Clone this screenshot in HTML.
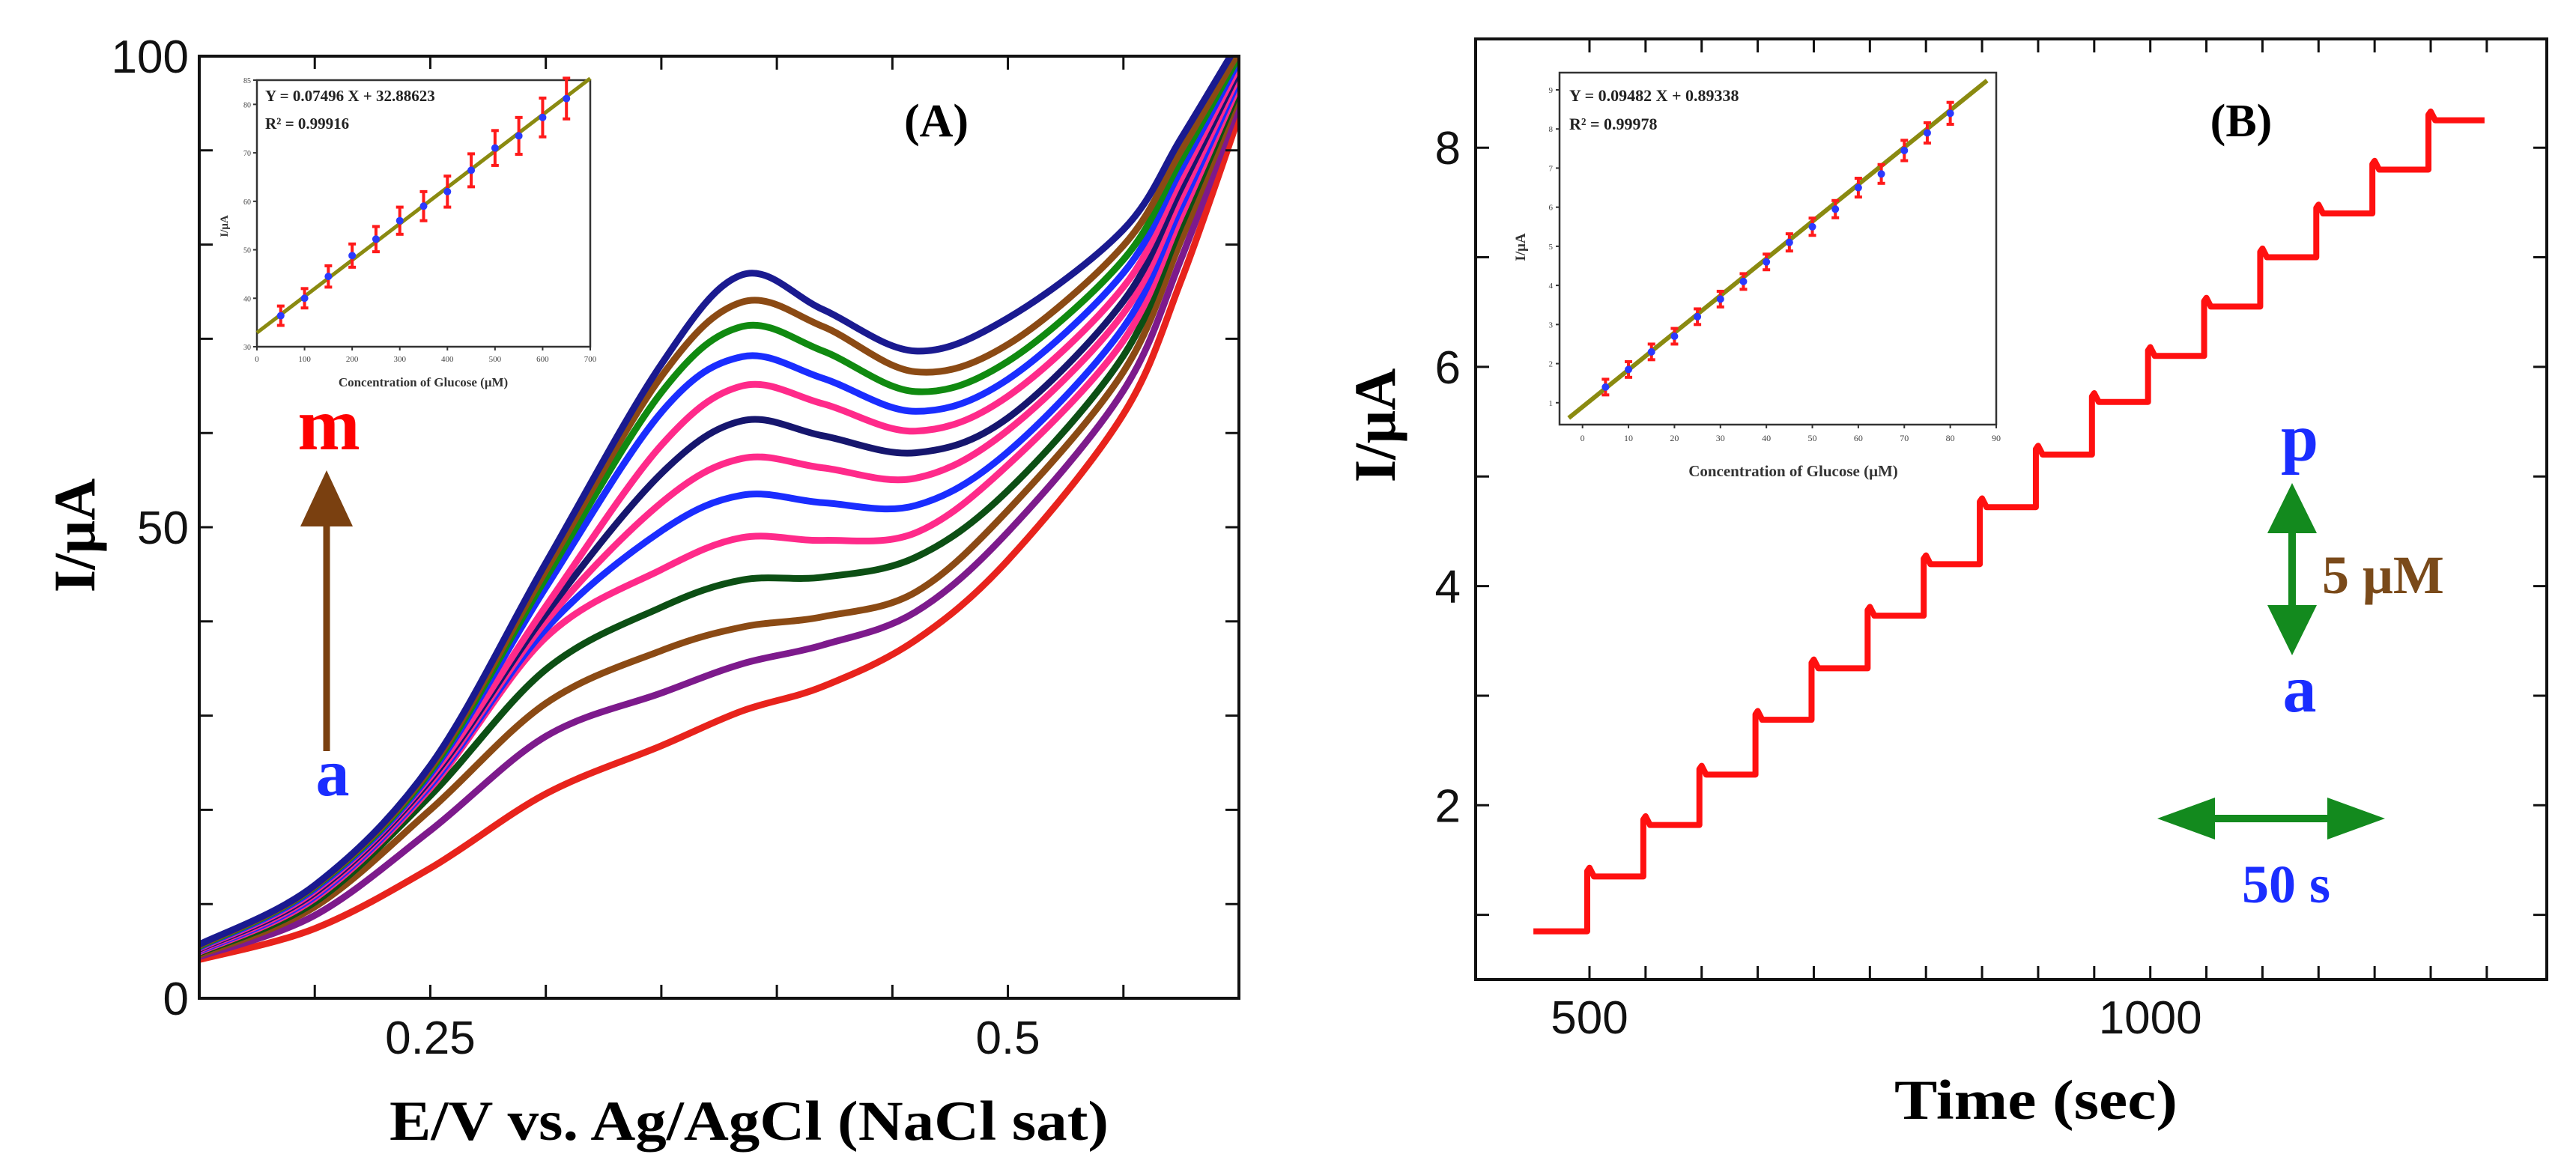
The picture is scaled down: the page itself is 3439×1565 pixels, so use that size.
<!DOCTYPE html>
<html><head><meta charset="utf-8"><style>
html,body{margin:0;padding:0;background:#fff;}
svg{display:block;}
.tick{font-family:"Liberation Sans",sans-serif;font-size:62px;fill:#111;}
.serifb{font-family:"Liberation Serif",serif;font-weight:bold;}
</style></head><body>
<svg id="fig" width="3439" height="1565" viewBox="0 0 3439 1565" xmlns="http://www.w3.org/2000/svg">
<rect width="3439" height="1565" fill="#fff"/>
<g id="pa"></g>
<g id="pb"></g>
</svg>
<script>
// ---------- Panel A data ----------
const cvPotentials = [0.15,0.2,0.25,0.3,0.35,0.385,0.42,0.46,0.5,0.55,0.575,0.6];
const cvLabels = ['a','b','c','d','e','f','g','h','i','j','k','l','m'];
const cvColors = ['#e8231c','#7d1a8c','#8b4a14','#0c4f14','#ff2a8a','#1a2dff','#ff2a8a','#16166e','#ff2a8a','#1a2dff','#108a10','#8b4a14','#1a1a90'];
const cvA = [4.1,7.4,13.8,21.7,26.8,30.5,33.1,38,46.5,62,76.2,93.6];
const cvB = [4.4,8.8,17.8,27.8,32.4,35.5,37.5,41,49.5,64.5,78.5,95];
const cvC = [4.6,9.7,20,31.3,36.9,39.4,40.5,43.1,51.8,66.5,80.5,96];
const cvD = [4.8,10.2,21.5,34.9,41.5,44.4,44.7,46.8,53.9,68.2,82,96.5];
const cvE = [4.9,10.6,22.3,38.3,45.5,48.9,48.6,49.4,56.6,69.8,83,97];
const cvF = [5.0,10.8,22.6,39.2,49.6,53.4,52.6,52.3,58,71.2,84,97.5];
const cvG = [5.1,11.0,22.9,40,52.6,57.3,56.3,55.2,60.3,72.7,85,98];
const cvH = [5.2,11.2,23.2,40.8,55.7,61.3,59.7,57.9,61.6,74,86,98.5];
const cvI = [5.3,11.4,23.5,41.6,58.7,65,63.1,60.2,63.9,75.5,87,99];
const cvJ = [5.4,11.6,23.8,43.6,62.2,68.1,65.8,62.3,65.7,77,88,99.5];
const cvK = [5.5,11.8,24.1,44.6,64.3,71.3,68.7,64.4,67.6,78.4,89,100];
const cvL = [5.6,11.9,24.4,45.4,66,73.9,71.3,66.5,69.4,79.9,90,100.5];
const cvM = [5.7,12.0,24.7,46.2,67.3,76.8,73.1,68.7,72.2,81.6,91.3,101.5];
const cvSeries = [cvA,cvB,cvC,cvD,cvE,cvF,cvG,cvH,cvI,cvJ,cvK,cvL,cvM];
const aXTicks = [0.25,0.5];
const aYTicks = [0,50,100];
// inset A
const insAConc = [50,100,150,200,250,300,350,400,450,500,550,600,650];
const insACurr = [36.4,40,44.5,48.8,52.2,56,59,62,66.4,71,73.5,77.3,81.2];
const insAErr = [2,2,2.2,2.4,2.6,2.8,3,3.2,3.4,3.6,3.8,4,4.2];
const insAFit = [0.07496,32.88623];
const insAXTicks = [0,100,200,300,400,500,600,700];
const insAYTicks = [30,40,50,60,70,80,85];
// ---------- Panel B data ----------
const ampTimes = [450,500,550,600,650,700,750,800,850,900,950,1000,1050,1100,1150,1200,1250,1300];
const ampLevels = [0.85,1.35,1.82,2.28,2.78,3.25,3.73,4.2,4.72,5.2,5.68,6.1,6.55,7.0,7.4,7.8,8.25];
const bXTicks = [500,1000];
const bYTicks = [2,4,6,8];
const insBConc = [5,10,15,20,25,30,35,40,45,50,55,60,65,70,75,80];
const insBCurr = [1.4,1.85,2.3,2.7,3.2,3.65,4.1,4.6,5.1,5.5,5.95,6.5,6.85,7.45,7.9,8.4];
const insBErr = [0.2,0.2,0.2,0.2,0.2,0.2,0.2,0.2,0.22,0.22,0.22,0.24,0.24,0.26,0.26,0.28];
const insBFit = [0.09482,0.89338];
const insBXTicks = [0,10,20,30,40,50,60,70,80,90];
const insBYTicks = [1,2,3,4,5,6,7,8,9];

const NS='http://www.w3.org/2000/svg';
function mk(parent,tag,attrs,text){const e=document.createElementNS(NS,tag);for(const k in attrs)e.setAttribute(k,attrs[k]);if(text!==undefined)e.textContent=text;parent.appendChild(e);return e;}
function lin(d0,d1,r0,r1){return v=>r0+(v-d0)/(d1-d0)*(r1-r0);}
function smoothPath(pts){let d='M'+pts[0][0]+','+pts[0][1];for(let i=0;i<pts.length-1;i++){const p0=pts[Math.max(0,i-1)],p1=pts[i],p2=pts[i+1],p3=pts[Math.min(pts.length-1,i+2)];const c1=[p1[0]+(p2[0]-p0[0])/6,p1[1]+(p2[1]-p0[1])/6];const c2=[p2[0]-(p3[0]-p1[0])/6,p2[1]-(p3[1]-p1[1])/6];d+=' C'+c1+' '+c2+' '+p2;}return d;}

// ===== Panel A =====
const pa=document.getElementById('pa');
const AX0=266,AX1=1654,AY0=1333,AY1=75;
const ax=lin(0.15,0.6,AX0,AX1), ay=lin(0,100,AY0,AY1);
const clipA=mk(pa,'clipPath',{id:'clipA'});mk(clipA,'rect',{x:AX0,y:AY1,width:AX1-AX0,height:AY0-AY1});
const curvesG=mk(pa,'g',{'clip-path':'url(#clipA)'});


cvSeries.forEach((s,i)=>{
  const pts=s.map((v,j)=>[ax(cvPotentials[j]),ay(v)]);
  const p=mk(curvesG,'path',{d:smoothPath(pts),fill:'none',stroke:cvColors[i],'stroke-width':9,'stroke-linejoin':'round'});
  
  
});
const frameA=mk(pa,'rect',{x:AX0,y:AY1,width:AX1-AX0,height:AY0-AY1,fill:'none',stroke:'#111','stroke-width':4});


for(let v=0.2;v<0.6;v+=0.05){const x=ax(v);mk(pa,'line',{x1:x,y1:AY0,x2:x,y2:AY0-18,stroke:'#111','stroke-width':3});mk(pa,'line',{x1:x,y1:AY1,x2:x,y2:AY1+18,stroke:'#111','stroke-width':3});}
for(let v=10;v<100;v+=10){const y=ay(v);mk(pa,'line',{x1:AX0,y1:y,x2:AX0+18,y2:y,stroke:'#111','stroke-width':3});mk(pa,'line',{x1:AX1,y1:y,x2:AX1-18,y2:y,stroke:'#111','stroke-width':3});}
aXTicks.forEach(v=>{const t=mk(pa,'text',{x:ax(v),y:1407,'text-anchor':'middle',class:'tick'},String(v));});
aYTicks.forEach(v=>{const t=mk(pa,'text',{x:AX0-14,y:ay(v)+22,'text-anchor':'end',class:'tick'},String(v));});
let t=mk(pa,'text',{x:1000,y:1522,'text-anchor':'middle',class:'serifb','font-size':75,textLength:960,lengthAdjust:'spacingAndGlyphs'},'E/V vs. Ag/AgCl (NaCl sat)');

t=mk(pa,'text',{x:0,y:0,transform:'translate(126,715) rotate(-90)','text-anchor':'middle',class:'serifb','font-size':78},'I/μA');

t=mk(pa,'text',{x:1250,y:182,'text-anchor':'middle',class:'serifb','font-size':62},'(A)');

t=mk(pa,'text',{x:439,y:600,'text-anchor':'middle',class:'serifb','font-size':100,fill:'#ff0000'},'m');

t=mk(pa,'text',{x:444,y:1062,'text-anchor':'middle',class:'serifb','font-size':90,fill:'#1a2dff'},'a');

const arrA=mk(pa,'g',{});
mk(arrA,'line',{x1:436,y1:1003,x2:436,y2:700,stroke:'#7a4010','stroke-width':9});
mk(arrA,'polygon',{points:'401,703 471,703 436,628',fill:'#7a4010'});

// inset A
const IA={x0:343,x1:788,y0:463,y1:107};
const iax=lin(0,700,IA.x0,IA.x1), iay=lin(30,85,IA.y0,IA.y1);
const insA=mk(pa,'g',{});
mk(insA,'rect',{x:IA.x0-40,y:IA.y1-15,width:IA.x1-IA.x0+50,height:IA.y0-IA.y1+68,fill:'#fff'});
mk(insA,'rect',{x:IA.x0,y:IA.y1,width:IA.x1-IA.x0,height:IA.y0-IA.y1,fill:'none',stroke:'#333','stroke-width':2.5});
insAXTicks.forEach(v=>{mk(insA,'line',{x1:iax(v),y1:IA.y0,x2:iax(v),y2:IA.y0+5,stroke:'#333','stroke-width':2});mk(insA,'text',{x:iax(v),y:IA.y0+20,'text-anchor':'middle','font-family':'Liberation Serif, serif','font-size':11,fill:'#444'},String(v));});
insAYTicks.forEach(v=>{mk(insA,'line',{x1:IA.x0,y1:iay(v),x2:IA.x0-5,y2:iay(v),stroke:'#333','stroke-width':2});mk(insA,'text',{x:IA.x0-8,y:iay(v)+4,'text-anchor':'end','font-family':'Liberation Serif, serif','font-size':10,fill:'#444'},String(v));});
mk(insA,'line',{x1:iax(0),y1:iay(insAFit[1]),x2:iax(700),y2:iay(insAFit[0]*700+insAFit[1]),stroke:'#8a8a10','stroke-width':5});
insAConc.forEach((c,i)=>{const x=iax(c),y=iay(insACurr[i]);const e=insAErr[i];
  mk(insA,'line',{x1:x,y1:iay(insACurr[i]-e),x2:x,y2:iay(insACurr[i]+e),stroke:'#ff1a1a','stroke-width':4});
  mk(insA,'line',{x1:x-5,y1:iay(insACurr[i]-e),x2:x+5,y2:iay(insACurr[i]-e),stroke:'#ff1a1a','stroke-width':4});
  mk(insA,'line',{x1:x-5,y1:iay(insACurr[i]+e),x2:x+5,y2:iay(insACurr[i]+e),stroke:'#ff1a1a','stroke-width':4});
  const c2=mk(insA,'circle',{cx:x,cy:y,r:5,fill:'#2a3aff'});});
mk(insA,'text',{x:354,y:135,class:'serifb','font-size':21,fill:'#222'},'Y = 0.07496 X + 32.88623');
mk(insA,'text',{x:354,y:172,class:'serifb','font-size':21,fill:'#222'},'R² = 0.99916');
mk(insA,'text',{x:565,y:516,'text-anchor':'middle',class:'serifb','font-size':17,fill:'#333'},'Concentration of Glucose (μM)');
mk(insA,'text',{x:0,y:0,transform:'translate(304,302) rotate(-90)','text-anchor':'middle',class:'serifb','font-size':15,fill:'#333'},'I/μA');

// ===== Panel B =====
const pb=document.getElementById('pb');
const BX0=1970,BX1=3400,BY0=1308,BY1=52;
const bx=lin(398.5,1353.5,BX0,BX1), by=lin(0,2,1368,1075.3);
let d='';
ampLevels.forEach((lv,i)=>{const xs=bx(ampTimes[i]),xe=bx(ampTimes[i+1]);
  if(i===0)d+='M'+xs+','+by(lv);else d+=' L'+xs+','+by(lv+0.08)+' L'+(xs+6)+','+by(lv);
  d+=' L'+(xe-3)+','+by(lv);
  if(i<ampLevels.length-1)d+=' L'+(xe-3)+','+by(ampLevels[i+1]+0.05);
});
const amp=mk(pb,'path',{d:d,fill:'none',stroke:'#ff1010','stroke-width':8,'stroke-linejoin':'round'});

const frameB=mk(pb,'rect',{x:BX0,y:BY1,width:BX1-BX0,height:BY0-BY1,fill:'none',stroke:'#111','stroke-width':4});

for(let v=500;v<=1300;v+=50){const x=bx(v);mk(pb,'line',{x1:x,y1:BY0,x2:x,y2:BY0-18,stroke:'#111','stroke-width':3});mk(pb,'line',{x1:x,y1:BY1,x2:x,y2:BY1+18,stroke:'#111','stroke-width':3});}
for(let v=1;v<=8;v+=1){const y=by(v);mk(pb,'line',{x1:BX0,y1:y,x2:BX0+18,y2:y,stroke:'#111','stroke-width':3});mk(pb,'line',{x1:BX1,y1:y,x2:BX1-18,y2:y,stroke:'#111','stroke-width':3});}
bXTicks.forEach(v=>{const tt=mk(pb,'text',{x:bx(v),y:1380,'text-anchor':'middle',class:'tick'},String(v));});
bYTicks.forEach(v=>{const tt=mk(pb,'text',{x:BX0-20,y:by(v)+22,'text-anchor':'end',class:'tick'},String(v));});
t=mk(pb,'text',{x:2718,y:1494,'text-anchor':'middle',class:'serifb','font-size':75,textLength:378,lengthAdjust:'spacingAndGlyphs'},'Time (sec)');

t=mk(pb,'text',{x:0,y:0,transform:'translate(1862,568) rotate(-90)','text-anchor':'middle',class:'serifb','font-size':78},'I/μA');

t=mk(pb,'text',{x:2992,y:182,'text-anchor':'middle',class:'serifb','font-size':62},'(B)');

t=mk(pb,'text',{x:3070,y:615,'text-anchor':'middle',class:'serifb','font-size':90,fill:'#1a2dff'},'p');

t=mk(pb,'text',{x:3070,y:950,'text-anchor':'middle',class:'serifb','font-size':90,fill:'#1a2dff'},'a');

t=mk(pb,'text',{x:3100,y:792,class:'serifb','font-size':72,fill:'#7a4a1a'},'5 μM');

const va=mk(pb,'g',{});
mk(va,'line',{x1:3060,y1:700,x2:3060,y2:820,stroke:'#138a1e','stroke-width':10});
mk(va,'polygon',{points:'3027,712 3093,712 3060,645',fill:'#138a1e'});
mk(va,'polygon',{points:'3027,808 3093,808 3060,875',fill:'#138a1e'});
const ha=mk(pb,'g',{});
mk(ha,'line',{x1:2940,y1:1093,x2:3120,y2:1093,stroke:'#138a1e','stroke-width':10});
mk(ha,'polygon',{points:'2957,1065 2957,1121 2880,1093',fill:'#138a1e'});
mk(ha,'polygon',{points:'3107,1065 3107,1121 3184,1093',fill:'#138a1e'});
t=mk(pb,'text',{x:3052,y:1205,'text-anchor':'middle',class:'serifb','font-size':72,fill:'#1a2dff'},'50 s');


// inset B
const IB={x0:2082,x1:2665,y0:567,y1:97};
const ibx=lin(-5,90,IB.x0,IB.x1), iby=lin(0,9,590,120);
const insB=mk(pb,'g',{});
mk(insB,'rect',{x:IB.x0-40,y:IB.y1-15,width:IB.x1-IB.x0+60,height:IB.y0-IB.y1+85,fill:'#fff'});
mk(insB,'rect',{x:IB.x0,y:IB.y1,width:IB.x1-IB.x0,height:IB.y0-IB.y1,fill:'none',stroke:'#333','stroke-width':2.5});
insBXTicks.forEach(v=>{mk(insB,'line',{x1:ibx(v),y1:IB.y0,x2:ibx(v),y2:IB.y0+5,stroke:'#333','stroke-width':2});mk(insB,'text',{x:ibx(v),y:IB.y0+22,'text-anchor':'middle','font-family':'Liberation Serif, serif','font-size':12,fill:'#444'},String(v));});
insBYTicks.forEach(v=>{mk(insB,'line',{x1:IB.x0,y1:iby(v),x2:IB.x0-5,y2:iby(v),stroke:'#333','stroke-width':2});mk(insB,'text',{x:IB.x0-9,y:iby(v)+4,'text-anchor':'end','font-family':'Liberation Serif, serif','font-size':11,fill:'#444'},String(v));});
mk(insB,'line',{x1:ibx(-3),y1:iby(insBFit[0]*-3+insBFit[1]),x2:ibx(88),y2:iby(insBFit[0]*88+insBFit[1]),stroke:'#8a8a10','stroke-width':6});
insBConc.forEach((c,i)=>{const x=ibx(c),y=iby(insBCurr[i]);const e=insBErr[i];
  mk(insB,'line',{x1:x,y1:iby(insBCurr[i]-e),x2:x,y2:iby(insBCurr[i]+e),stroke:'#ff1a1a','stroke-width':4});
  mk(insB,'line',{x1:x-5,y1:iby(insBCurr[i]-e),x2:x+5,y2:iby(insBCurr[i]-e),stroke:'#ff1a1a','stroke-width':4});
  mk(insB,'line',{x1:x-5,y1:iby(insBCurr[i]+e),x2:x+5,y2:iby(insBCurr[i]+e),stroke:'#ff1a1a','stroke-width':4});
  const c2=mk(insB,'circle',{cx:x,cy:y,r:5,fill:'#2a3aff'});});
mk(insB,'text',{x:2095,y:135,class:'serifb','font-size':22,fill:'#222'},'Y = 0.09482 X + 0.89338');
mk(insB,'text',{x:2095,y:173,class:'serifb','font-size':22,fill:'#222'},'R² = 0.99978');
mk(insB,'text',{x:2394,y:636,'text-anchor':'middle',class:'serifb','font-size':21,fill:'#333'},'Concentration of Glucose (μM)');
mk(insB,'text',{x:0,y:0,transform:'translate(2036,330) rotate(-90)','text-anchor':'middle',class:'serifb','font-size':19,fill:'#333'},'I/μA');
</script>
</body></html>
